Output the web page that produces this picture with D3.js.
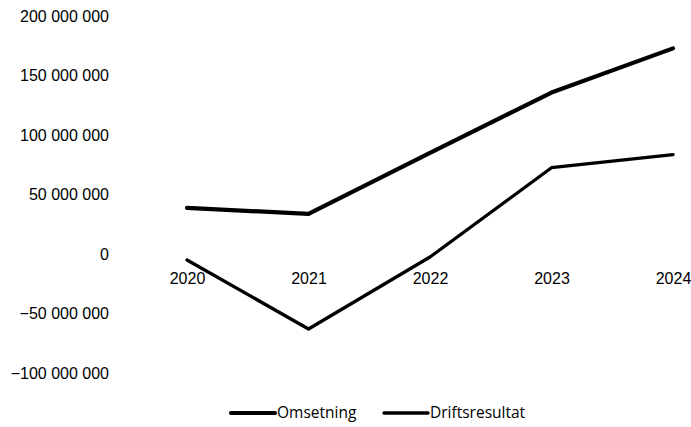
<!DOCTYPE html>
<html>
<head>
<meta charset="utf-8">
<script src="https://cdn.jsdelivr.net/npm/d3@7"></script>
<style>
    body { margin: 0; background: #fff; }
</style>
</head>
<body>
<div id="chart"></div>
<script>
// Data
var years = ["2020", "2021", "2022", "2023", "2024"];
var omsetning = [38800000, 33700000, 85000000, 135700000, 172800000];
var driftsresultat = [-5000000, -63000000, -2500000, 72500000, 83500000];
var yTicks = [-100000000, -50000000, 0, 50000000, 100000000, 150000000, 200000000];

function init() {
    var w = 691;
    var h = 427;

    var svg = d3.select("#chart")
        .append("svg")
        .attr("width", w)
        .attr("height", h);

    // Scales
    var x = d3.scalePoint()
        .domain(years)
        .range([187, 673]);

    var y = d3.scaleLinear()
        .domain([-100000000, 200000000])
        .range([373, 16]);

    // Number format with spaces as thousand separators
    var fmt = function (v) {
        return d3.format(",")(v).replace(/,/g, " ");
    };

    // Y axis (labels only)
    var yAxis = d3.axisLeft(y)
        .tickValues(yTicks)
        .tickFormat(fmt)
        .tickSize(0)
        .tickPadding(0);

    var gy = svg.append("g")
        .attr("transform", "translate(109,0)")
        .call(yAxis);
    gy.select(".domain").remove();
    gy.selectAll("text")
        .style("font-family", "'Liberation Sans', Arial, sans-serif")
        .style("font-size", "16px")
        .style("fill", "#000");

    // X axis labels, placed below zero
    var xAxis = d3.axisBottom(x)
        .tickSize(0)
        .tickPadding(0);

    var gx = svg.append("g")
        .attr("transform", "translate(0," + (y(0) + 19) + ")")
        .call(xAxis);
    gx.select(".domain").remove();
    gx.selectAll("text")
        .style("font-family", "'Liberation Sans', Arial, sans-serif")
        .style("font-size", "16px")
        .style("fill", "#000");

    // Lines
    var line = d3.line()
        .x(function (d, i) { return x(years[i]); })
        .y(function (d) { return y(d); });

    svg.append("path")
        .datum(omsetning)
        .attr("d", line)
        .attr("fill", "none")
        .attr("stroke", "#000")
        .attr("stroke-width", 4.2)
        .attr("stroke-linejoin", "round")
        .attr("stroke-linecap", "round");

    svg.append("path")
        .datum(driftsresultat)
        .attr("d", line)
        .attr("fill", "none")
        .attr("stroke", "#000")
        .attr("stroke-width", 3.3)
        .attr("stroke-linejoin", "round")
        .attr("stroke-linecap", "round");

    // Legend
    var legend = [
        { name: "Omsetning", x: 231, width: 4.2 },
        { name: "Driftsresultat", x: 384, width: 3.3 }
    ];

    var lg = svg.selectAll(".legend")
        .data(legend)
        .enter()
        .append("g")
        .attr("class", "legend")
        .attr("transform", function (d) { return "translate(" + d.x + ",413)"; });

    lg.append("line")
        .attr("x1", 0)
        .attr("x2", 44)
        .attr("y1", 0)
        .attr("y2", 0)
        .attr("stroke", "#000")
        .attr("stroke-width", function (d) { return d.width; })
        .attr("stroke-linecap", "round");

    lg.append("text")
        .attr("x", 46)
        .attr("y", 0)
        .attr("dy", "0.35em")
        .style("font-family", "'Open Sans', sans-serif")
        .style("font-size", "15.5px")
        .style("fill", "#000")
        .text(function (d) { return d.name; });
}

window.onload = init;
</script>
</body>
</html>
